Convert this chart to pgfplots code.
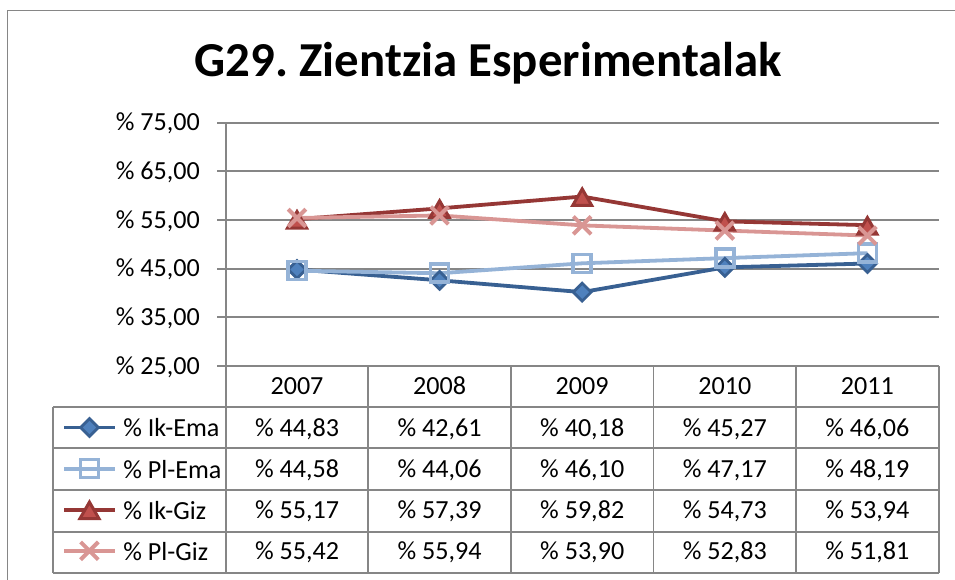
\documentclass[border=0pt]{standalone}
\usepackage{fontspec}
\setmainfont{Carlito}
\usepackage{pgfplots}
\pgfplotsset{compat=1.18}
\usepackage{pgfplotstable}

\definecolor{c1}{RGB}{56,96,146}
\definecolor{f1}{RGB}{79,129,189}
\definecolor{c2}{RGB}{149,179,215}
\definecolor{c3}{RGB}{149,55,53}
\definecolor{f3}{RGB}{192,80,77}
\definecolor{c4}{RGB}{217,150,148}
\definecolor{gridc}{RGB}{134,134,134}

\pgfplotstableread{
x IkEma PlEma IkGiz PlGiz
0 44.83 44.58 55.17 55.42
1 42.61 44.06 57.39 55.94
2 40.18 46.10 59.82 53.90
3 45.27 47.17 54.73 52.83
4 46.06 48.19 53.94 51.81
}\data

\newcommand{\tfont}{\fontsize{26.2}{31}\selectfont}

\begin{document}
\frenchspacing
\begin{tikzpicture}[x=1bp,y=1bp]
\useasboundingbox (0,0) rectangle (955,580);
\draw[gridc, line width=1.2bp] (7.5,-5) -- (7.5,569.5) -- (960,569.5);
\node[anchor=base, inner sep=0pt, font=\bfseries\fontsize{49}{58}\selectfont] at (488.5,503.3) {G29. Zientzia Esperimentalak};
\begin{axis}[
  at={(225.7bp,214bp)}, anchor=south west,
  scale only axis, width=713bp, height=243.3bp,
  xmin=-0.5, xmax=4.5, ymin=25, ymax=75,
  axis x line=bottom, axis y line=left,
  x axis line style={-, gridc, line width=1.8bp},
  y axis line style={-, gridc, line width=1.8bp},
  xtick=\empty,
  ytick={25,35,45,55,65,75},
  yticklabels={{\% 25,00},{\% 35,00},{\% 45,00},{\% 55,00},{\% 65,00},{\% 75,00}},
  tick align=outside, major tick length=8.7bp,
  ytick style={gridc, line width=1.8bp},
  ymajorgrids, grid style={gridc, line width=1.8bp},
  yticklabel style={anchor=base east, inner sep=0pt, xshift=-17bp, yshift=-8.3bp, font=\tfont},
  clip=false,
  legend cell align=left,
  legend style={at={(-0.2296,-0.1924)}, anchor=north west, draw=none, fill=none,
    inner sep=0pt, row sep=12.1bp, font=\tfont,
    nodes={inner sep=0pt, text height=23.9bp, text depth=5.1bp},
    /tikz/every odd column/.append style={column sep=6.6bp}},
  legend image code/.code={\draw[mark repeat=2, mark phase=2, #1] plot coordinates {(0bp,0bp) (25.35bp,0bp) (50.7bp,0bp)};},
]
\addplot[c1, line width=3.8bp, mark=square*, mark size=6.3bp,
  mark options={rotate=45, fill=f1, draw=c1, line width=2.8bp, solid}] table[x=x,y=IkEma]{\data};
\addlegendentry{\% Ik-Ema}
\addplot[c2, line width=3.8bp, mark=square, mark size=9bp,
  mark options={draw=c2, line width=3.5bp, rounded corners=2bp, solid}] table[x=x,y=PlEma]{\data};
\addlegendentry{\% Pl-Ema}
\addplot[c3, line width=3.8bp, mark=triangle*, mark size=11bp,
  mark options={fill=f3, draw=c3, line width=3bp, yshift=-3.4bp, solid}] table[x=x,y=IkGiz]{\data};
\addlegendentry{\% Ik-Giz}
\addplot[c4, line width=3.8bp, mark=x, mark size=12.5bp,
  mark options={draw=c4, line width=4bp, solid}] table[x=x,y=PlGiz]{\data};
\addlegendentry{\% Pl-Giz}
\end{axis}
% data table grid
\begin{scope}[gridc, line width=1.8bp]
\foreach \yy in {173.3,131.7,90,48.3,7.3} \draw (53.3,\yy) -- (938.7,\yy);
\foreach \xx in {225.7,368.3,510.9,653.5,796.1,938.7} \draw (\xx,214) -- (\xx,7.3);
\draw (53.3,173.3) -- (53.3,7.3);
\end{scope}
\begin{scope}[every node/.style={anchor=base, inner sep=0pt, font=\tfont}]
\node at (297.0,185.7) {2007};
\node at (439.6,185.7) {2008};
\node at (582.2,185.7) {2009};
\node at (724.8,185.7) {2010};
\node at (867.4,185.7) {2011};
\node at (297.0,143.3) {\% 44,83};
\node at (439.6,143.3) {\% 42,61};
\node at (582.2,143.3) {\% 40,18};
\node at (724.8,143.3) {\% 45,27};
\node at (867.4,143.3) {\% 46,06};
\node at (297.0,102.3) {\% 44,58};
\node at (439.6,102.3) {\% 44,06};
\node at (582.2,102.3) {\% 46,10};
\node at (724.8,102.3) {\% 47,17};
\node at (867.4,102.3) {\% 48,19};
\node at (297.0,61.0) {\% 55,17};
\node at (439.6,61.0) {\% 57,39};
\node at (582.2,61.0) {\% 59,82};
\node at (724.8,61.0) {\% 54,73};
\node at (867.4,61.0) {\% 53,94};
\node at (297.0,20.0) {\% 55,42};
\node at (439.6,20.0) {\% 55,94};
\node at (582.2,20.0) {\% 53,90};
\node at (724.8,20.0) {\% 52,83};
\node at (867.4,20.0) {\% 51,81};
\end{scope}
\end{tikzpicture}
\end{document}
